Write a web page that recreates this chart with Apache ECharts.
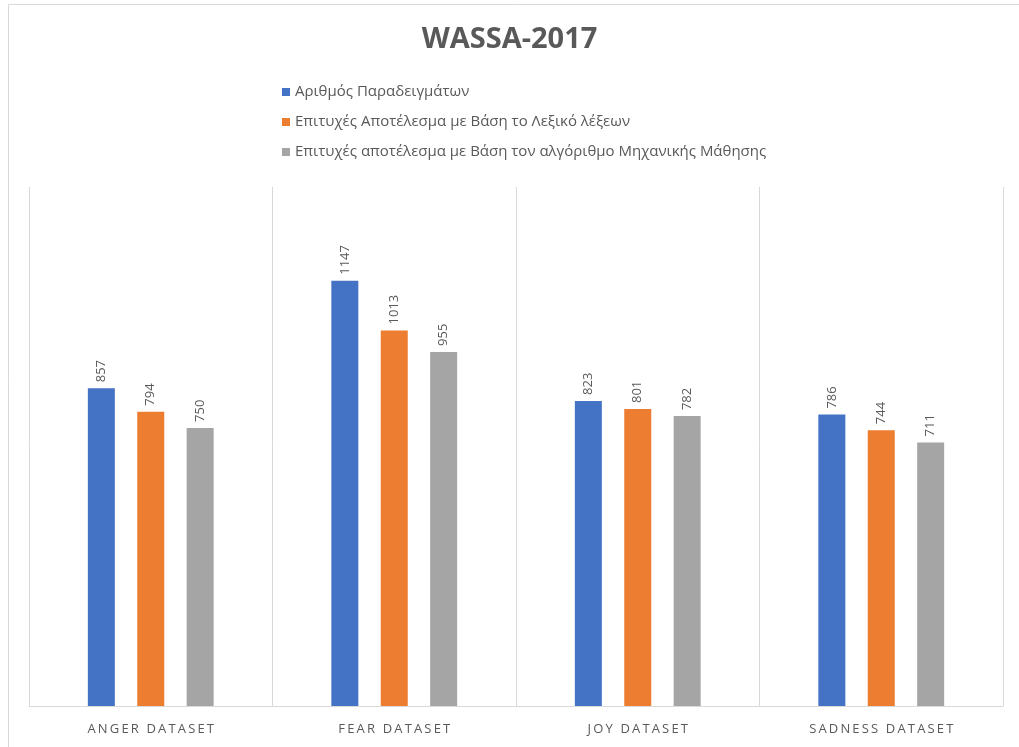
<!DOCTYPE html>
<html>
<head>
<meta charset="utf-8">
<script src="https://cdn.jsdelivr.net/npm/echarts@6/dist/echarts.min.js"></script>
<style>
  html, body { margin: 0; padding: 0; background: #fff; }
  #chart { width: 1019px; height: 747px; }
</style>
</head>
<body>
<div id="chart"></div>
<script>
// Dataset names along the bottom
const categories = ['ANGER DATASET', 'FEAR DATASET', 'JOY DATASET', 'SADNESS DATASET'];

// Series names (legend)
const seriesNames = [
  'Αριθμός Παραδειγμάτων',
  'Επιτυχές Αποτέλεσμα με Βάση το Λεξικό λέξεων',
  'Επιτυχές αποτέλεσμα με Βάση τον αλγόριθμο Μηχανικής Μάθησης'
];

// Values per dataset
const samples = [857, 1147, 823, 786];
const lexiconHits = [794, 1013, 801, 744];
const mlHits = [750, 955, 782, 711];

const colors = ['#4472C4', '#ED7D31', '#A5A5A5'];
const textColor = '#595959';
const fontFamily = '"Open Sans", "Noto Sans", sans-serif';

const chart = echarts.init(document.getElementById('chart'));

function barSeries(name, data, color) {
  return {
    name: name,
    type: 'bar',
    data: data,
    barWidth: 27,
    barGap: '83%',
    itemStyle: { color: color },
    label: {
      show: true,
      position: 'top',
      rotate: 90,
      align: 'left',
      verticalAlign: 'middle',
      distance: 6,
      color: textColor,
      fontSize: 13,
      fontFamily: fontFamily
    }
  };
}

chart.setOption({
  backgroundColor: '#ffffff',
  animation: false,
  title: {
    text: 'WASSA-2017',
    left: 'center',
    top: 20,
    textStyle: {
      color: textColor,
      fontSize: 29,
      fontWeight: 'bold',
      fontFamily: fontFamily
    }
  },
  legend: {
    orient: 'vertical',
    left: 277,
    top: 79,
    itemWidth: 8,
    itemHeight: 8,
    itemGap: 14,
    icon: 'rect',
    data: seriesNames,
    textStyle: {
      color: textColor,
      fontSize: 15,
      lineHeight: 16,
      fontFamily: fontFamily
    }
  },
  grid: {
    left: 29,
    right: 16,
    top: 187,
    bottom: 41,
    containLabel: false
  },
  xAxis: {
    type: 'category',
    data: categories,
    axisLine: { show: true, lineStyle: { color: '#d9d9d9' } },
    axisTick: { show: false },
    splitLine: { show: true, lineStyle: { color: '#d9d9d9' } },
    axisLabel: {
      margin: 17,
      color: textColor,
      fontSize: 13,
      fontFamily: fontFamily,
      formatter: function (v) { return v.split('').join('\u2009'); }
    }
  },
  yAxis: {
    type: 'value',
    min: 0,
    max: 1400,
    show: false,
    splitLine: { show: false }
  },
  graphic: [{
    type: 'rect',
    silent: true,
    z: -1,
    shape: { x: 8.5, y: 4.5, width: 1100, height: 800 },
    style: { fill: 'none', stroke: '#d9d9d9', lineWidth: 1 }
  }],
  series: [
    barSeries(seriesNames[0], samples, colors[0]),
    barSeries(seriesNames[1], lexiconHits, colors[1]),
    barSeries(seriesNames[2], mlHits, colors[2])
  ]
});
</script>
</body>
</html>
